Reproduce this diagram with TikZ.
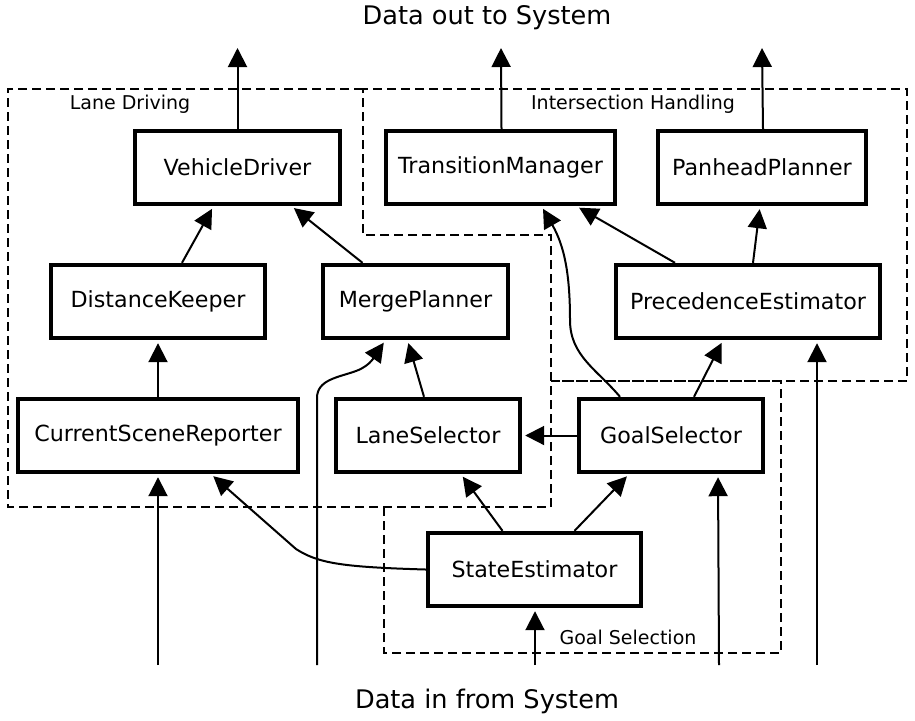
\documentclass[tikz,border=0pt]{standalone}
\usepackage{fontspec}
\setmainfont{DejaVu Sans}
\usetikzlibrary{arrows.meta,calc}
\begin{document}
\begin{tikzpicture}[x=0.5pt,y=-0.5pt,
 box/.style={draw,line width=2.2pt,minimum height=36.5pt,inner sep=0pt,font=\fontsize{11.1}{13}\selectfont},
 arr/.style={line width=1pt,-{Triangle[length=9.5pt,width=9.5pt]},shorten >=1.5pt},
 region/.style={line width=1pt,dash pattern=on 4.5pt off 2.5pt},
 lbl/.style={font=\fontsize{9.5}{11}\selectfont},
 io/.style={font=\fontsize{12.8}{15}\selectfont}]
\useasboundingbox (0,0) rectangle (915,720);
% regions
\draw[region] (363,89) -- (8,89) -- (8,507) -- (551,507) -- (551,235) -- (363,235) -- (363,89) -- (907,89) -- (907,381) -- (551,381);
\draw[region] (551,381) -- (781,381) -- (781,653) -- (384,653) -- (384,507);
\node[lbl] (ld) at (130,104) {Lane Driving};
\node[lbl] (ih) at (633,104) {Intersection Handling};
\node[lbl] (gsl) at (628,637) {Goal Selection};
\node[io] (out) at (487,18) {Data out to System};
\node[io] (in) at (487,701) {Data in from System};
% boxes
\node[box,minimum width=102.5pt] (vd) at (237.5,167.5) {VehicleDriver};
\node[box,minimum width=114.5pt] (tm) at (500.5,167.5) {TransitionManager};
\node[box,minimum width=104pt] (pp) at (762,167.5) {PanheadPlanner};
\node[box,minimum width=107pt] (dk) at (158,301.5) {DistanceKeeper};
\node[box,minimum width=92.5pt] (mp) at (415.5,301.5) {MergePlanner};
\node[box,minimum width=132pt] (pe) at (748,301.5) {PrecedenceEstimator};
\node[box,minimum width=140pt] (csr) at (158,435.5) {CurrentSceneReporter};
\node[box,minimum width=92pt] (ls) at (428,435.5) {LaneSelector};
\node[box,minimum width=92pt] (gs) at (671,435.5) {GoalSelector};
\node[box,minimum width=106.5pt] (se) at (534.5,569.5) {StateEstimator};
% outputs
\coordinate (o1) at (237.5,48);
\coordinate (o2) at (501,48);
\coordinate (o3) at (762,48);
\draw[arr,shorten >=0pt] (vd.north) -- (o1);
\draw[arr,shorten >=0pt] ([xshift=0.5pt]tm.north) -- (o2);
\draw[arr,shorten >=0pt] ([xshift=0.5pt]pp.north) -- (o3);
% inputs
\coordinate (i1) at (158,665);
\coordinate (i2) at (317,665);
\coordinate (i3) at (535,665);
\coordinate (i4) at (719,665);
\coordinate (i5) at (817,665);
\draw[arr] (i1) -- (csr.south);
\draw[arr] (i3) -- ([xshift=0.25pt]se.south);
\draw[arr] (i4) -- ([xshift=23.5pt]gs.south);
\draw[arr] (i5) -- ([xshift=34.5pt]pe.south);
\draw[arr] (i2) -- (317,398) to[out=90,in=200] (356,371) to[out=20,in=235] ([xshift=-15pt]mp.south);
% internal
\draw[arr] ([xshift=12pt]dk.north) -- ([xshift=-12pt]vd.south);
\draw[arr] ([xshift=-26.5pt]mp.north) -- ([xshift=27pt]vd.south);
\draw[arr] (csr.north) -- (dk.south);
\draw[arr] ([xshift=-2pt]ls.north) -- ([xshift=-4pt]mp.south);
\draw[arr] (se.west) .. controls (340,567) and (318,563) .. (296,549) -- ([xshift=26.5pt]csr.south);
\draw[arr] ([xshift=-16pt]se.north) -- ([xshift=16.5pt]ls.south);
\draw[arr] ([xshift=20pt]se.north) -- ([xshift=-21pt]gs.south);
\draw[arr] (gs.west) -- (ls.east);
\draw[arr] ([xshift=11.5pt]gs.north) -- ([xshift=-12.5pt]pe.south);
\draw[arr] ([xshift=-25.5pt]gs.north) to[out=130,in=-90] (570,320) to[out=90,in=-60] ([xshift=20.5pt]tm.south);
\draw[arr] ([xshift=-36.5pt]pe.north) -- ([xshift=38pt]tm.south);
\draw[arr] ([xshift=2.5pt]pe.north) -- ([xshift=-1pt]pp.south);
\end{tikzpicture}
\end{document}
